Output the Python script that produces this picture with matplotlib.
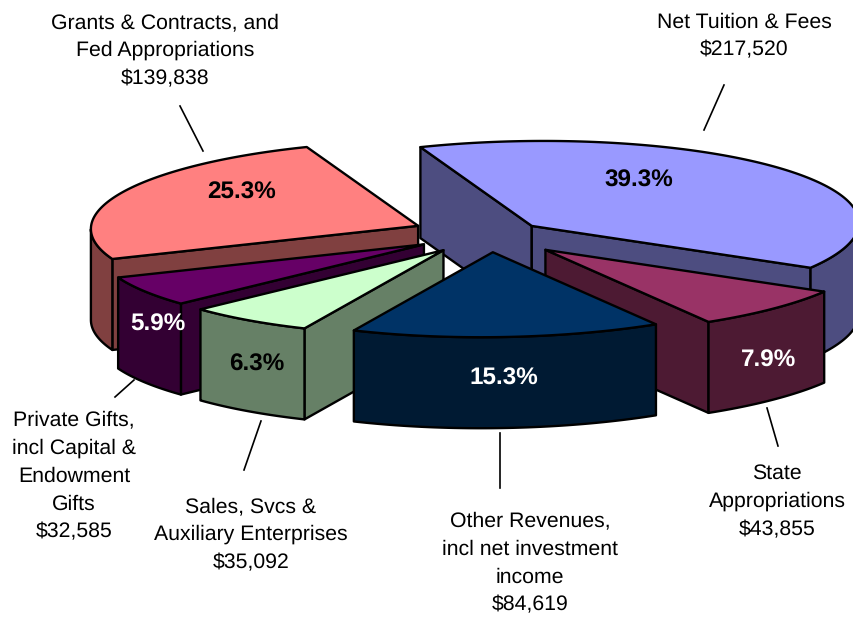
import numpy as np
import matplotlib
matplotlib.use("Agg")
import matplotlib.pyplot as plt
from matplotlib.patches import Polygon

plt.rcParams["font.family"] = ["Liberation Sans", "DejaVu Sans"]
plt.rcParams["text.hinting"] = "none"

# clockwise from the start angle
names = [
    "Net Tuition & Fees",
    "State\nAppropriations",
    "Other Revenues,\nincl net investment\nincome",
    "Sales, Svcs &\nAuxiliary Enterprises",
    "Private Gifts,\nincl Capital &\nEndowment\nGifts",
    "Grants & Contracts, and\nFed Appropriations",
]
values = [217520, 43855, 84619, 35092, 32585, 139838]
top_colors = ["#9999FF", "#993366", "#003366", "#CCFFCC", "#660066", "#FF8080"]
side_colors = ["#4D4D80", "#4D1A33", "#001A33", "#668066", "#330033", "#804040"]

# layout
START = 112.0
CX, CY = 479, 237.6
RX, RY = 327, 85
SHEAR = 12
DEPTH = 91
EXPLODE = 0.208
nudge = [(0, 0), (19, 0), (11, -3), (5, -2), (3, -3), (1, -5)]
draw_order = [0, 5, 1, 4, 3, 2]
label_xy = [(744, 36), (777, 501.5), (530, 563), (251, 534.5), (74, 476), (165, 50.5)]
pct_xy = [(639, 180.5), (769, 360.5), (504, 378.5), (257, 364.5), (158, 324.5), (242, 193)]
pct_color = ["black", "white", "white", "black", "white", "black"]
leaders = [((724, 85), (704, 130)), ((767, 408), (778, 446)), ((500, 433), (500, 488)),
           ((261, 421), (244, 470)), ((134, 380), (115, 397)), ((180, 106), (203, 151))]


def rim(angle):
    return RX * np.cos(angle) + SHEAR * np.sin(angle), -RY * np.sin(angle)


fig = plt.figure(figsize=(8.54, 6.18), dpi=100)
ax = fig.add_axes([0, 0, 1, 1])
ax.set_xlim(0, 854)
ax.set_ylim(618, 0)
ax.axis("off")

fractions = np.array(values) / sum(values)
ends = START - 360 * np.cumsum(fractions)
starts = np.r_[START, ends[:-1]]

edge = dict(edgecolor="black", linewidth=1.7, joinstyle="round")
for i in draw_order:
    a0, a1 = np.radians(starts[i]), np.radians(ends[i])
    mx, my = rim((a0 + a1) / 2)
    apex = np.array([CX + EXPLODE * mx + nudge[i][0], CY + EXPLODE * my + nudge[i][1]])
    t = np.linspace(a0, a1, 120)
    rx, ry = rim(t)
    top = np.column_stack([apex[0] + rx, apex[1] + ry])
    down = np.array([0, DEPTH])

    # cut faces, only those turned to the viewer
    if np.cos(a0) < 0:
        ax.add_patch(Polygon([apex, top[0], top[0] + down, apex + down], facecolor=side_colors[i], **edge))
    if np.cos(a1) > 0:
        ax.add_patch(Polygon([apex, top[-1], top[-1] + down, apex + down], facecolor=side_colors[i], **edge))
    # outer wall on the front part of the rim
    front = np.sin(t - np.arctan2(SHEAR, RX)) < 0
    if front.any():
        wall = np.vstack([top[front], top[front][::-1] + down])
        ax.add_patch(Polygon(wall, facecolor=side_colors[i], **edge))
    ax.add_patch(Polygon(np.vstack([apex, top]), facecolor=top_colors[i], **edge))

for i in range(len(values)):
    ax.text(*pct_xy[i], f"{fractions[i] * 100:.1f}%", ha="center", va="center",
            fontsize=17.5, fontweight="bold", color=pct_color[i])
    ax.text(*label_xy[i], f"{names[i]}\n${values[i]:,}", ha="center", va="center",
            fontsize=15.3, color="black", linespacing=1.56)
    (x0, y0), (x1, y1) = leaders[i]
    ax.plot([x0, x1], [y0, y1], color="black", linewidth=1.2)

fig.savefig("out.png", dpi=100)
